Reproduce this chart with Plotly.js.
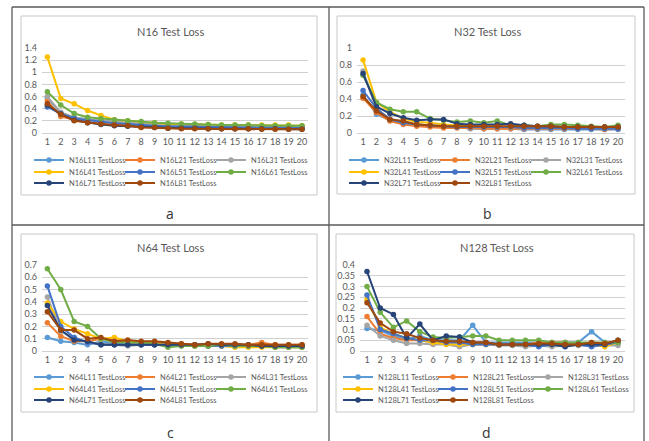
<!DOCTYPE html>
<html>
<head>
<meta charset="utf-8">
<script src="https://cdn.plot.ly/plotly-3.0.1.min.js"></script>
<style>html,body{margin:0;padding:0;background:#fff;}#chart{width:649px;height:441px;}</style>
</head>
<body>
<div id="chart"></div>
<script>
// ---------- DATA ----------
const epochs = [1,2,3,4,5,6,7,8,9,10,11,12,13,14,15,16,17,18,19,20];
const seriesKeys = ['L11','L21','L31','L41','L51','L61','L71','L81'];
const panelNames = ['N16','N32','N64','N128'];
const panelLetters = ['a','b','c','d'];

// N16
const N16_L11 = [0.58,0.33,0.25,0.22,0.20,0.18,0.17,0.15,0.13,0.12,0.11,0.11,0.10,0.10,0.10,0.10,0.09,0.09,0.09,0.09];
const N16_L21 = [0.53,0.27,0.22,0.18,0.15,0.13,0.12,0.10,0.10,0.09,0.08,0.08,0.08,0.07,0.07,0.07,0.07,0.07,0.07,0.07];
const N16_L31 = [0.60,0.34,0.26,0.22,0.20,0.18,0.17,0.15,0.14,0.13,0.12,0.12,0.11,0.11,0.11,0.10,0.10,0.10,0.10,0.10];
const N16_L41 = [1.25,0.57,0.48,0.37,0.29,0.22,0.20,0.18,0.17,0.15,0.15,0.14,0.14,0.13,0.13,0.13,0.13,0.13,0.13,0.12];
const N16_L51 = [0.43,0.32,0.24,0.21,0.19,0.16,0.15,0.13,0.12,0.11,0.11,0.10,0.10,0.10,0.09,0.09,0.09,0.09,0.09,0.09];
const N16_L61 = [0.68,0.46,0.32,0.26,0.24,0.22,0.20,0.19,0.17,0.16,0.15,0.15,0.14,0.13,0.13,0.13,0.12,0.12,0.12,0.12];
const N16_L71 = [0.46,0.31,0.21,0.17,0.14,0.12,0.11,0.10,0.09,0.08,0.08,0.08,0.07,0.07,0.07,0.07,0.07,0.07,0.06,0.06];
const N16_L81 = [0.48,0.31,0.20,0.17,0.15,0.13,0.12,0.09,0.09,0.08,0.07,0.07,0.07,0.07,0.07,0.07,0.06,0.06,0.06,0.06];

// N32
const N32_L11 = [0.45,0.22,0.15,0.12,0.09,0.08,0.07,0.07,0.05,0.05,0.05,0.05,0.04,0.04,0.04,0.04,0.04,0.04,0.04,0.04];
const N32_L21 = [0.41,0.24,0.14,0.10,0.08,0.07,0.06,0.06,0.06,0.05,0.05,0.05,0.05,0.05,0.05,0.05,0.05,0.05,0.04,0.05];
const N32_L31 = [0.73,0.28,0.17,0.13,0.10,0.09,0.08,0.08,0.08,0.07,0.07,0.07,0.07,0.07,0.07,0.07,0.07,0.07,0.07,0.07];
const N32_L41 = [0.86,0.36,0.25,0.17,0.13,0.12,0.10,0.09,0.08,0.08,0.08,0.07,0.07,0.07,0.07,0.07,0.06,0.06,0.06,0.06];
const N32_L51 = [0.50,0.29,0.16,0.12,0.10,0.09,0.08,0.07,0.07,0.07,0.07,0.07,0.06,0.06,0.06,0.06,0.05,0.05,0.05,0.05];
const N32_L61 = [0.68,0.36,0.28,0.25,0.25,0.17,0.15,0.13,0.14,0.12,0.14,0.09,0.09,0.08,0.10,0.10,0.09,0.08,0.07,0.09];
const N32_L71 = [0.70,0.31,0.23,0.18,0.15,0.16,0.16,0.11,0.10,0.10,0.10,0.11,0.09,0.08,0.08,0.07,0.07,0.07,0.07,0.07];
const N32_L81 = [0.43,0.26,0.16,0.14,0.10,0.09,0.08,0.08,0.08,0.08,0.08,0.08,0.08,0.08,0.08,0.07,0.07,0.07,0.07,0.07];

// N64
const N64_L11 = [0.11,0.08,0.07,0.05,0.08,0.06,0.05,0.05,0.05,0.05,0.05,0.04,0.04,0.04,0.04,0.04,0.04,0.03,0.03,0.03];
const N64_L21 = [0.23,0.12,0.08,0.08,0.10,0.09,0.07,0.07,0.07,0.06,0.06,0.05,0.05,0.05,0.05,0.05,0.07,0.05,0.05,0.05];
const N64_L31 = [0.44,0.16,0.11,0.07,0.06,0.05,0.04,0.05,0.05,0.04,0.04,0.04,0.04,0.04,0.04,0.04,0.04,0.04,0.04,0.04];
const N64_L41 = [0.39,0.24,0.18,0.14,0.10,0.11,0.08,0.07,0.06,0.05,0.05,0.04,0.04,0.04,0.03,0.03,0.03,0.03,0.03,0.03];
const N64_L51 = [0.53,0.20,0.11,0.07,0.05,0.05,0.05,0.05,0.05,0.05,0.05,0.05,0.04,0.04,0.04,0.04,0.04,0.04,0.04,0.04];
const N64_L61 = [0.67,0.50,0.24,0.20,0.10,0.07,0.07,0.07,0.06,0.03,0.04,0.04,0.04,0.05,0.04,0.04,0.04,0.03,0.03,0.03];
const N64_L71 = [0.37,0.17,0.09,0.08,0.05,0.05,0.05,0.05,0.05,0.05,0.05,0.05,0.06,0.05,0.05,0.05,0.04,0.04,0.04,0.04];
const N64_L81 = [0.32,0.17,0.17,0.10,0.11,0.08,0.09,0.08,0.08,0.07,0.06,0.05,0.06,0.06,0.06,0.05,0.05,0.05,0.05,0.05];

// N128
const N128_L11 = [0.105,0.095,0.07,0.055,0.07,0.05,0.05,0.05,0.12,0.04,0.04,0.04,0.04,0.04,0.04,0.04,0.04,0.09,0.04,0.04];
const N128_L21 = [0.16,0.08,0.06,0.05,0.05,0.04,0.04,0.04,0.04,0.04,0.03,0.03,0.03,0.04,0.04,0.04,0.03,0.03,0.03,0.04];
const N128_L31 = [0.12,0.07,0.05,0.035,0.035,0.03,0.03,0.02,0.03,0.03,0.025,0.025,0.02,0.025,0.02,0.025,0.025,0.025,0.025,0.025];
const N128_L41 = [0.24,0.11,0.08,0.06,0.05,0.04,0.03,0.03,0.03,0.03,0.03,0.03,0.03,0.03,0.03,0.03,0.03,0.03,0.02,0.04];
const N128_L51 = [0.26,0.10,0.08,0.06,0.05,0.05,0.04,0.04,0.03,0.03,0.03,0.03,0.03,0.02,0.03,0.03,0.03,0.02,0.03,0.04];
const N128_L61 = [0.30,0.18,0.11,0.14,0.09,0.065,0.06,0.065,0.07,0.07,0.05,0.05,0.05,0.05,0.04,0.04,0.04,0.04,0.04,0.04];
const N128_L71 = [0.37,0.20,0.17,0.06,0.125,0.05,0.07,0.065,0.04,0.04,0.03,0.03,0.03,0.03,0.03,0.02,0.03,0.03,0.03,0.05];
const N128_L81 = [0.225,0.13,0.09,0.08,0.06,0.05,0.045,0.045,0.04,0.04,0.03,0.03,0.03,0.035,0.035,0.03,0.03,0.04,0.035,0.05];

// ---------- STYLE / LAYOUT ----------
const colors = ['#5B9BD5','#ED7D31','#A5A5A5','#FFC000','#4472C4','#70AD47','#264478','#9E480E'];
const W = 649, H = 441;
const px = v => v / W;
const py = v => 1 - v / H;
const FONT = 'Lato, "Open Sans", sans-serif';
const TXT = '#595959';

const panelData = [
  [N16_L11,N16_L21,N16_L31,N16_L41,N16_L51,N16_L61,N16_L71,N16_L81],
  [N32_L11,N32_L21,N32_L31,N32_L41,N32_L51,N32_L61,N32_L71,N32_L81],
  [N64_L11,N64_L21,N64_L31,N64_L41,N64_L51,N64_L61,N64_L71,N64_L81],
  [N128_L11,N128_L21,N128_L31,N128_L41,N128_L51,N128_L61,N128_L71,N128_L81]
];
const geom = [
  {xd:[42,308], yd:[133,48], xr:[0.6,20.45], yr:[0,1.4], dt:0.2, frame:[21,16,317,195], title:[170,31], letter:[170,213], legX:29, rows:[160,172,183], ew:46},
  {xd:[357,625], yd:[133,48], xr:[0.55,20.52], yr:[0,1], dt:0.2, frame:[337,16,635,194], title:[487,31], letter:[487,213], legX:344, rows:[160,172,183], ew:46},
  {xd:[42,308], yd:[351,265], xr:[0.6,20.45], yr:[0,0.7], dt:0.1, frame:[21,234,317,412], title:[170,247], letter:[170,432], legX:29, rows:[377,389,400], ew:46},
  {xd:[360,625], yd:[351,265], xr:[0.47,20.53], yr:[0,0.4], dt:0.05, frame:[336,234,634,412], title:[497,247], letter:[486,432], legX:338, rows:[377,389,400], ew:50}
];
const rowOf = j => (j < 3 ? 0 : (j < 6 ? 1 : 2));
const lastInRow = j => (j === 2 || j === 5 || j === 7);

const traces = [];
const layout = {
  width: W, height: H,
  margin: {l:0, r:0, t:0, b:0},
  paper_bgcolor: '#ffffff', plot_bgcolor: '#ffffff',
  font: {family: FONT, color: TXT},
  showlegend: true,
  annotations: [], shapes: []
};

panelData.forEach((data, i) => {
  const g = geom[i];
  const sfx = i === 0 ? '' : String(i + 1);
  data.forEach((vals, j) => {
    const legIdx = i * 3 + rowOf(j) + 1;
    traces.push({
      type: 'scatter', mode: 'lines+markers',
      x: epochs, y: vals,
      name: panelNames[i] + seriesKeys[j] + ' TestLoss',
      xaxis: 'x' + sfx, yaxis: 'y' + sfx,
      legend: legIdx === 1 ? 'legend' : 'legend' + legIdx,
      legendwidth: lastInRow(j) ? g.ew + 20 : g.ew,
      line: {color: colors[j], width: 2},
      marker: {color: colors[j], size: 5.5},
      hoverinfo: 'x+y+name'
    });
  });
  layout['xaxis' + sfx] = {
    domain: [px(g.xd[0]), px(g.xd[1])], range: g.xr, anchor: 'y' + sfx,
    tickvals: epochs, showgrid: false, zeroline: false,
    showline: true, linecolor: '#d0d0d0', linewidth: 1, ticks: '',
    tickfont: {size: 9, color: TXT, family: FONT}, fixedrange: true
  };
  layout['yaxis' + sfx] = {
    domain: [py(g.yd[0]), py(g.yd[1])], range: g.yr, anchor: 'x' + sfx,
    dtick: g.dt, tick0: 0, showgrid: true, gridcolor: '#d0d0d0', gridwidth: 1,
    zeroline: false, showline: false, ticks: '',
    tickfont: {size: 9, color: TXT, family: FONT}, ticklabelstandoff: 4, fixedrange: true
  };
  g.rows.forEach((ry, r) => {
    const idx = i * 3 + r + 1;
    layout[idx === 1 ? 'legend' : 'legend' + idx] = {
      x: px(g.legX), xanchor: 'left', y: py(ry), yanchor: 'middle',
      orientation: 'h', entrywidth: g.ew, itemwidth: 30,
      bgcolor: 'rgba(0,0,0,0)', borderwidth: 0, traceorder: 'normal',
      font: {size: 7.5, color: TXT, family: FONT}
    };
  });
  layout.annotations.push({
    xref: 'paper', yref: 'paper', x: px(g.title[0]), y: py(g.title[1]),
    xanchor: 'center', yanchor: 'middle', showarrow: false,
    text: panelNames[i] + ' Test Loss', font: {size: 11, color: TXT, family: FONT}
  });
  layout.annotations.push({
    xref: 'paper', yref: 'paper', x: px(g.letter[0]), y: py(g.letter[1]),
    xanchor: 'center', yanchor: 'middle', showarrow: false,
    text: panelLetters[i], font: {size: 14, color: '#333333', family: '"Open Sans", sans-serif'}
  });
  const f = g.frame;
  layout.shapes.push({type: 'rect', xref: 'paper', yref: 'paper', layer: 'below',
    x0: px(f[0]), x1: px(f[2]), y0: py(f[3]), y1: py(f[1]),
    line: {color: '#c8c8c8', width: 1}, fillcolor: 'rgba(0,0,0,0)'});
});

// outer grid frame
const frameLines = [
  [12,7,644,7],[12,7,12,441],[644,7,644,441],[329,7,329,441],[12,225,644,225]
];
frameLines.forEach(l => layout.shapes.push({type: 'line', xref: 'paper', yref: 'paper', layer: 'below',
  x0: px(l[0]), y0: py(l[1]), x1: px(l[2]), y1: py(l[3]), line: {color: '#5a5a5a', width: 1.3}}));

Plotly.newPlot('chart', traces, layout, {displayModeBar: false, staticPlot: true});
</script>
</body>
</html>
